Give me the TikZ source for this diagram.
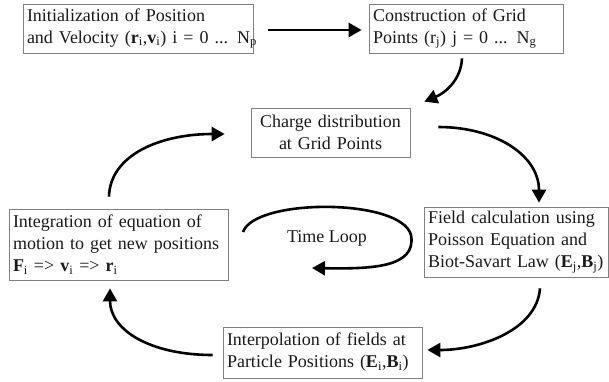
\documentclass[tikz,border=0pt]{standalone}
\usepackage{fontspec}
\setmainfont{Liberation Serif}
\usetikzlibrary{arrows.meta,calc}
\newcommand{\oneline}[1]{\mbox{#1}}
\begin{document}
\begin{tikzpicture}[x=1pt,y=-1pt,
  box/.style={draw=black!50, line width=0.7pt, inner xsep=4pt, inner ysep=0pt,
    font=\fontsize{18}{22}\selectfont, align=left, text=black!90},
  flow/.style={line width=2.6pt, -{Triangle[length=13pt,width=14pt]}},
  lbl/.style={font=\fontsize{18}{22}\selectfont, text=black!90}
]
\useasboundingbox (0,0) rectangle (609,381);
\node[box, text width=222pt, minimum height=49pt] (init) at (138,28.5)
  {\oneline{Initialization of Position}\\\oneline{and Velocity (\textbf{r}\textsubscript{i},\textbf{v}\textsubscript{i}) i = 0 ... N\textsubscript{p}}};
\node[box, text width=186pt, minimum height=49pt] (constr) at (466,28.5)
  {\oneline{Construction of Grid}\\\oneline{Points (r\textsubscript{j}) j = 0 ... N\textsubscript{g}}};
\node[box, text width=151pt, minimum height=49pt, align=center] (charge) at (330.5,132.5)
  {\oneline{Charge distribution}\\\oneline{at Grid Points}};
\node[box, text width=211pt, minimum height=71pt] (integ) at (118.5,244.5)
  {\oneline{Integration of equation of}\\\oneline{motion to get new positions}\\\oneline{\textbf{F}\textsubscript{i} => \textbf{v}\textsubscript{i} => \textbf{r}\textsubscript{i}}};
\node[box, text width=176pt, minimum height=70pt] (field) at (516,242)
  {\oneline{Field calculation using}\\\oneline{Poisson Equation and}\\\oneline{Biot-Savart Law (\textbf{E}\textsubscript{j},\textbf{B}\textsubscript{j})}};
\node[box, text width=191pt, minimum height=51pt] (interp) at (322.5,352.5)
  {\oneline{Interpolation of fields at}\\\oneline{Particle Positions (\textbf{E}\textsubscript{i},\textbf{B}\textsubscript{i})}};
\node[lbl] (tl) at (327,238) {Time Loop};

\draw[flow] ($(init.east)+(15,1.5)$) -- ($(constr.west)+(-7,1.5)$);
\draw[flow] ($(constr.south)+(-4,5)$) .. controls (461,80) and (445,93) .. ($(charge.north east)+(14,-6)$);
\draw[flow] ($(charge.east)+(28,-5.5)$) .. controls (495,127) and (539,155) .. ($(field.north)+(23,-4)$);
\draw[flow] ($(field.south)+(24,11)$) .. controls (537,330) and (480,350) .. ($(interp.east)+(5,-2.5)$);
\draw[flow] ($(interp.west)+(-10,2.5)$) .. controls (150,355) and (110,330) .. ($(integ.south)+(-8.5,8)$);
\draw[flow] ($(integ.north)+(-9.5,-12)$) .. controls (110,155) and (160,134) .. ($(charge.west)+(-26,1.5)$);

\coordinate (tla) at (243,232);
\coordinate (tlb) at (312,268);
\draw[flow] (tla) .. controls (255,198) and (401,198) .. (411,235) .. controls (417,268) and (370,269) .. (tlb);
\end{tikzpicture}
\end{document}
